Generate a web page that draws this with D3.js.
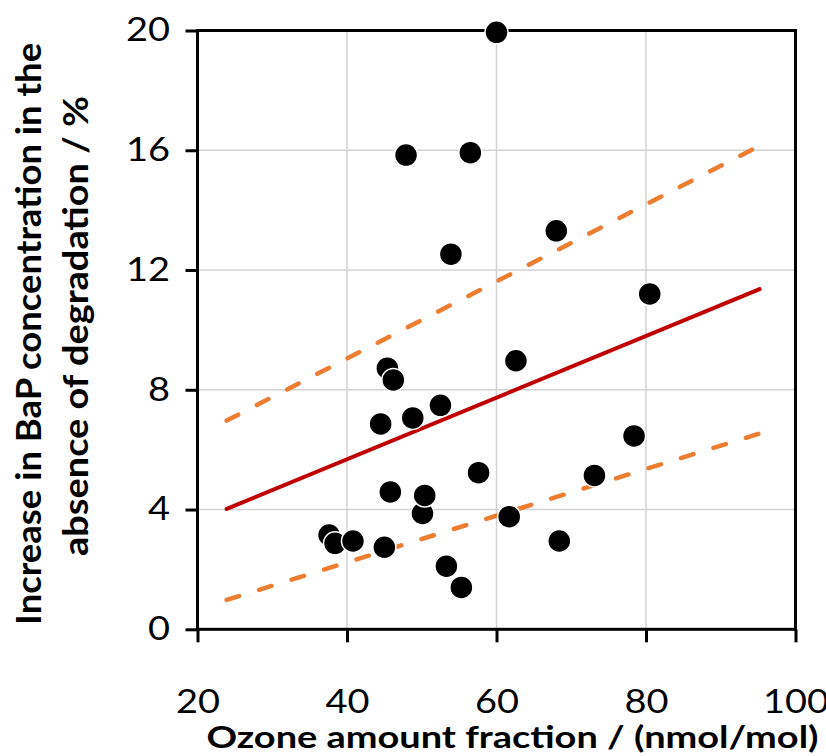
<!DOCTYPE html>
<html>
<head>
<meta charset="utf-8">
<script src="https://cdn.jsdelivr.net/npm/d3@7"></script>
<style>
  body { margin: 0; background: #fff; }
  text { font-family: Lato, "Open Sans", sans-serif; fill: #000; }
</style>
</head>
<body>
<div id="my_dataviz"></div>
<script>
// measured points (ozone, increase)
var ozone = [37.6, 38.4, 40.8, 45.0, 44.5, 45.4, 46.2, 45.8, 47.9, 48.8, 50.1, 50.4,
             52.5, 53.3, 53.9, 55.3, 56.5, 57.6, 60.0, 61.7, 62.6, 68.0, 68.4, 73.1, 78.4, 80.5];
var increase = [3.15, 2.87, 2.95, 2.74, 6.86, 8.72, 8.33, 4.59, 15.84, 7.06, 3.87, 4.47,
                7.48, 2.11, 12.53, 1.40, 15.92, 5.23, 19.94, 3.76, 8.97, 13.31, 2.95, 5.14, 6.46, 11.2];

// fit line and band ends
var fitX = [23.9, 95.2];
var fitY = [4.02, 11.36];
var upperY = [6.97, 16.15];
var lowerY = [0.98, 6.54];

var xTicks = [20, 40, 60, 80, 100];
var yTicks = [0, 4, 8, 12, 16, 20];

function plot(){
    document.getElementById("my_dataviz").innerHTML = '';

    var margin = {top: 30.5, right: 30.5, bottom: 126.7, left: 197.5},
        width = 826 - margin.left - margin.right,
        height = 756 - margin.top - margin.bottom;

    var svg = d3.select("#my_dataviz")
        .append("svg")
            .attr("width", 826)
            .attr("height", 756)
        .append("g")
            .attr("transform", "translate(" + margin.left + "," + margin.top + ")");

    var xScale = d3.scaleLinear().domain([20, 100]).range([0, width]);
    var yScale = d3.scaleLinear().domain([0, 20]).range([height, 0]);

    // gridlines
    svg.append("g")
        .selectAll("line")
        .data(xTicks.slice(1, -1))
        .enter().append("line")
            .attr("x1", function(d) { return xScale(d); })
            .attr("x2", function(d) { return xScale(d); })
            .attr("y1", 0).attr("y2", height)
            .attr("stroke", "#d3d3d3").attr("stroke-width", 1.5);
    svg.append("g")
        .selectAll("line")
        .data(yTicks.slice(1, -1))
        .enter().append("line")
            .attr("x1", 0).attr("x2", width)
            .attr("y1", function(d) { return yScale(d); })
            .attr("y2", function(d) { return yScale(d); })
            .attr("stroke", "#d3d3d3").attr("stroke-width", 1.5);

    // axes
    var xAxis = svg.append("g")
        .attr("transform", "translate(0," + height + ")")
        .call(d3.axisBottom(xScale).tickValues(xTicks).tickSize(13).tickPadding(48));
    var yAxis = svg.append("g")
        .call(d3.axisLeft(yScale).tickValues(yTicks).tickSize(12).tickPadding(15.5));

    [xAxis, yAxis].forEach(function(a) {
        a.select(".domain").remove();
        a.selectAll(".tick line").attr("stroke", "#000").attr("stroke-width", 3);
        a.selectAll(".tick text")
            .style("font-size", "32px")
            .style("font-family", "Lato, sans-serif")
            .attr("fill", "#000")
            .attr("lengthAdjust", "spacingAndGlyphs")
            .attr("textLength", function(d) { return String(d).length * 22; });
    });
    xAxis.selectAll(".tick text").attr("dy", "0.71em");

    // frame
    svg.append("rect")
        .attr("x", 0).attr("y", 0)
        .attr("width", width).attr("height", height)
        .attr("fill", "none")
        .attr("stroke", "#000")
        .attr("stroke-width", 3);

    var line = d3.line()
        .x(function(d) { return xScale(d[0]); })
        .y(function(d) { return yScale(d[1]); });

    // confidence band
    [upperY, lowerY].forEach(function(band) {
        svg.append("path")
            .datum(fitX.map(function(x, i) { return [x, band[i]]; }))
            .attr("fill", "none")
            .attr("stroke", "#ED7D31")
            .attr("stroke-width", 4.5)
            .attr("stroke-linecap", "round")
            .attr("stroke-dasharray", "13,21")
            .attr("d", line);
    });

    // fit line
    svg.append("path")
        .datum(fitX.map(function(x, i) { return [x, fitY[i]]; }))
        .attr("fill", "none")
        .attr("stroke", "#C00000")
        .attr("stroke-width", 4)
        .attr("stroke-linecap", "round")
        .attr("d", line);

    // points
    svg.append("g")
        .selectAll("circle")
        .data(ozone.map(function(x, i) { return {x: x, y: increase[i]}; }))
        .enter()
            .append("circle")
                .attr("cx", function(d) { return xScale(d.x); })
                .attr("cy", function(d) { return yScale(d.y); })
                .attr("r", 11.5)
                .attr("fill", "#000")
                .attr("stroke", "#fff")
                .attr("stroke-width", 1.5);

    // axis titles
    svg.append("text")
        .attr("x", 512.5 - margin.left)
        .attr("y", 748 - margin.top)
        .attr("text-anchor", "middle")
        .attr("lengthAdjust", "spacingAndGlyphs")
        .attr("textLength", 612)
        .style("font-size", "30px")
        .style("font-weight", "bold")
        .text("Ozone amount fraction / (nmol/mol)");

    var yt = svg.append("text")
        .attr("transform", "translate(" + (-margin.left) + "," + (height / 2) + ") rotate(-90)")
        .attr("text-anchor", "middle")
        .style("font-size", "34px")
        .style("font-weight", "bold");
    yt.append("tspan").attr("x", -4).attr("y", 41)
        .attr("lengthAdjust", "spacingAndGlyphs").attr("textLength", 582)
        .text("Increase in BaP concentration in the");
    yt.append("tspan").attr("x", 4).attr("y", 88)
        .attr("lengthAdjust", "spacingAndGlyphs").attr("textLength", 460)
        .text("absence of degradation / %");
}

window.addEventListener("load", plot);
</script>
</body>
</html>
